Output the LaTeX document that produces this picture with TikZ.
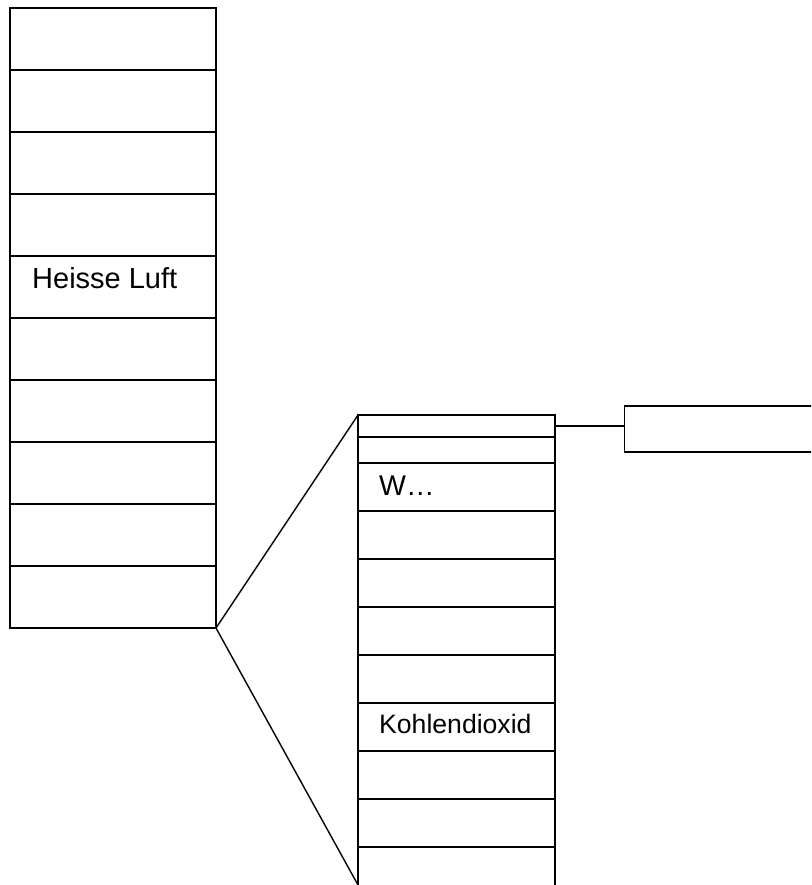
\documentclass[tikz,border=0pt]{standalone}
\usepackage{fontspec}
\setmainfont{Liberation Sans}
\usetikzlibrary{calc}
\tikzset{
  lcell/.style={draw, line width=1.6pt, minimum width=206pt, minimum height=62pt, inner sep=0pt, outer sep=0pt, anchor=north west},
  rcell/.style={draw, line width=1.6pt, minimum width=197pt, minimum height=48pt, inner sep=0pt, outer sep=0pt, anchor=north west},
  lbl/.style={anchor=base west, inner sep=0pt}
}

\begin{document}
\begin{tikzpicture}[x=1pt, y=-1pt]
		%%%%% START %%%%%
		\useasboundingbox (0, 0) rectangle (811, 885);
		\clip (0, 0) rectangle (811, 885);
		
		% left column
		\foreach \i in {0,...,9}
			\node[lcell] (l\i) at (10, 8+62*\i) {};
		\node[lbl] (heisse) at (32, 288) {\fontsize{29}{30}\selectfont Heisse Luft};
		
		% right column
		\node[rcell, minimum height=22pt] (r0) at (358, 415) {};
		\node[rcell, minimum height=26pt] (r1) at (358, 437) {};
		\foreach \i in {2,...,10}
			\node[rcell] (r\i) at (358, 463+48*\i-96) {};
		\node[lbl] (wdots) at (379, 495) {\fontsize{28.5}{30}\selectfont W…};
		\node[lbl] (kohlen) at (379, 733) {\fontsize{26.6}{28}\selectfont Kohlendioxid};
		
		% zoom lines
		\coordinate (cut) at (358, 885);
		\draw[line width=1.4pt] (l9.south east) -- (r0.north west);
		\draw[line width=1.4pt] (l9.south east) -- (cut);
		
		% side box
		\node[draw, line width=1.6pt, minimum width=200pt, minimum height=46pt, inner sep=0pt, anchor=north west] (side) at (623.5, 405) {};
		\draw[line width=1.6pt] (r0.east) -- (side.west |- r0.east);
		
		%%%%% END %%%%%
\end{tikzpicture}
\end{document}
